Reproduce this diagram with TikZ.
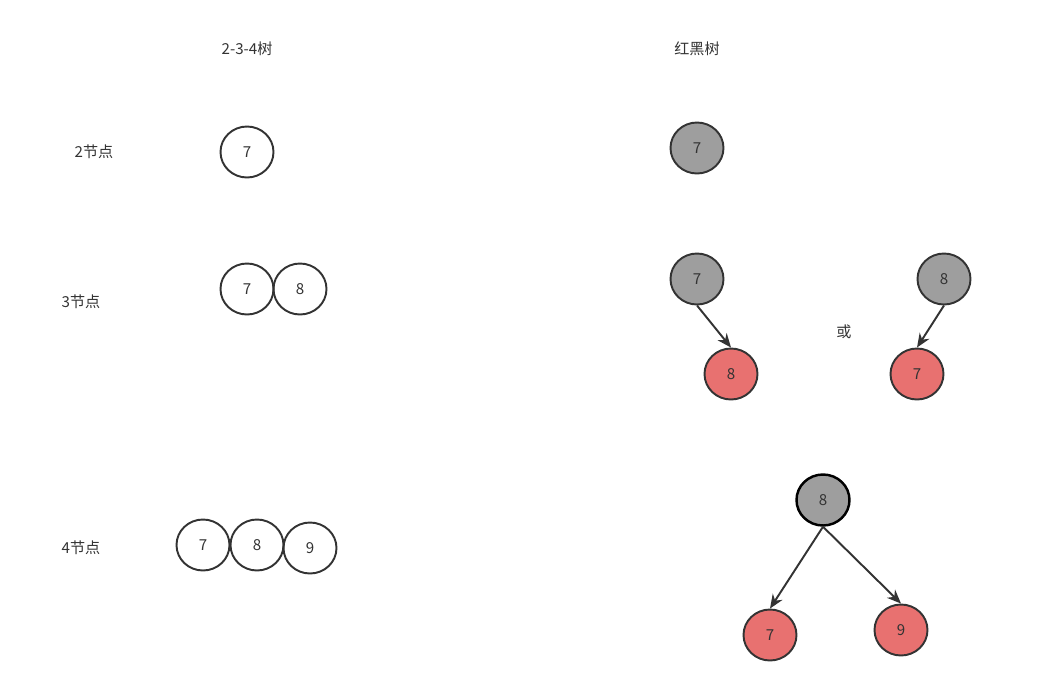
\documentclass[tikz,border=0pt]{standalone}
\usepackage{fontspec}
\setmainfont{Noto Sans CJK SC}
\usetikzlibrary{shapes.geometric,positioning,arrows.meta}
\definecolor{blk}{HTML}{333333}
\definecolor{gry}{HTML}{9E9E9E}
\definecolor{rd}{HTML}{E87170}

\begin{document}
\begin{tikzpicture}[>={Stealth[length=2.8mm,width=2.3mm]},on grid,font=\fontsize{8.6}{10}\selectfont,text=blk,
	key/.style={ellipse,draw=blk,line width=1.1pt,minimum width=1.06cm,minimum height=1.02cm,inner sep=0pt},
	black node/.style={key,fill=gry},
	red node/.style={key,fill=rd},
	link/.style={->,draw=blk,line width=1.1pt}]
	\useasboundingbox (0,0) rectangle (21.04,-13.82);

	% titles
	\node (t234) at (4.94,-0.98) {2-3-4树};
	\node (trb) at (13.94,-0.98) {红黑树};

	% 2-3-4 tree
	\node (l2) at (1.88,-3.04) {2节点};
	\node (l3) at (1.62,-6.04) {3节点};
	\node (l4) at (1.62,-10.96) {4节点};

	\node[key] (a7) at (4.94,-3.04) {7};

	\node[key] (b7) at (4.94,-5.78) {7};
	\node[key] (b8) [right=1.06cm of b7] {8};

	\node[key] (c7) at (4.06,-10.9) {7};
	\node[key] (c8) [right=1.08cm of c7] {8};
	\node[key] (c9) at (6.2,-10.96) {9};

	% red-black tree
	\node[black node] (g7) at (13.94,-2.96) {7};

	\node[black node] (h7) at (13.94,-5.58) {7};
	\node[red node] (h8) [below right=1.9cm and 0.68cm of h7] {8};
	\node (or) at (16.88,-6.64) {或};
	\node[black node] (k8) at (18.88,-5.58) {8};
	\node[red node] (k7) [below left=1.9cm and 0.54cm of k8] {7};

	\node[black node,draw=black,line width=1.4pt] (m8) at (16.46,-10.0) {8};
	\node[red node] (m7) at (15.4,-12.7) {7};
	\node[red node] (m9) at (18.02,-12.6) {9};

	\draw[link] (h7.south) -- (h8.north);
	\draw[link] (k8.south) -- (k7.north);
	\draw[link] (m8.south) -- (m7.north);
	\draw[link] (m8.south) -- (m9.north);
\end{tikzpicture}
\end{document}
